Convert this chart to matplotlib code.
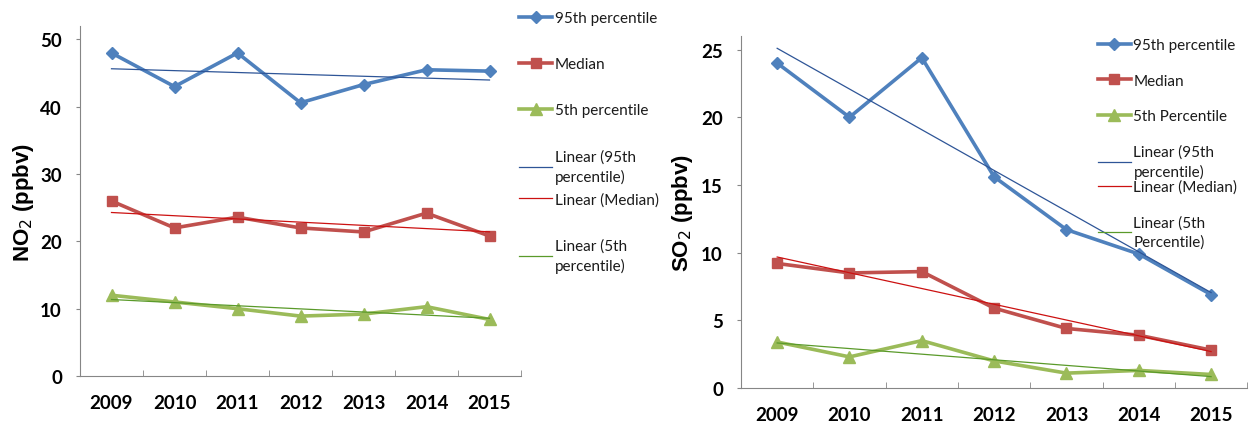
import numpy as np
import matplotlib.pyplot as plt

years = ['2009', '2010', '2011', '2012', '2013', '2014', '2015']

no2_p95 = [48.0, 43.0, 48.0, 40.6, 43.3, 45.5, 45.3]
no2_med = [26.0, 22.0, 23.6, 22.0, 21.4, 24.2, 20.8]
no2_p5 = [12.0, 11.0, 10.0, 8.9, 9.2, 10.3, 8.4]

so2_p95 = [24.0, 20.0, 24.4, 15.6, 11.7, 9.9, 6.9]
so2_med = [9.2, 8.5, 8.6, 5.9, 4.4, 3.9, 2.8]
so2_p5 = [3.4, 2.3, 3.5, 2.0, 1.1, 1.3, 1.0]

no2_labels = ['95th percentile', 'Median', '5th percentile',
              'Linear (95th\npercentile)', 'Linear (Median)', 'Linear (5th\npercentile)']
so2_labels = ['95th percentile', 'Median', '5th Percentile',
              'Linear (95th\npercentile)', 'Linear (Median)', 'Linear (5th\nPercentile)']

# excel-ish palette
cols = ['#4F81BD', '#C0504D', '#9BBB59']
trend_cols = ['#2E5597', '#CC1111', '#5A9A2A']
markers = ['D', 's', '^']
msizes = [6.5, 7.5, 8]

plt.rcParams['font.family'] = ['Lato', 'DejaVu Sans']

fig = plt.figure(figsize=(12.5, 4.31), dpi=100)


def draw(ax, series, ylim, yticks, ylabel, labelx):
    x = np.arange(len(years))
    handles = []
    for s, c, m, ms in zip(series, cols, markers, msizes):
        h, = ax.plot(x, s, color=c, lw=2.6, marker=m, ms=ms, mec=c, mfc=c, zorder=3)
        handles.append(h)
    for s, c in zip(series, trend_cols):
        k, b = np.polyfit(x, s, 1)
        h, = ax.plot(x, k * x + b, color=c, lw=0.9, zorder=4)
        handles.append(h)

    ax.set_xlim(-0.5, len(years) - 0.5)
    ax.set_ylim(*ylim)
    ax.set_yticks(yticks)
    ax.set_xticks(x)
    ax.set_xticklabels(years)
    ax.set_xticks(np.arange(-0.5, len(years)), minor=True)
    ax.tick_params(axis='x', which='major', length=0, pad=13, labelsize=13.5)
    ax.tick_params(axis='x', which='minor', direction='in', length=4.5, color='#868686')
    ax.tick_params(axis='y', direction='out', length=3, pad=10, labelsize=13.5, color='#868686')
    for lab in ax.get_xticklabels() + ax.get_yticklabels():
        lab.set_fontweight('bold')
    for sp in ['top', 'right']:
        ax.spines[sp].set_visible(False)
    for sp in ['left', 'bottom']:
        ax.spines[sp].set_color('#868686')
    ax.set_ylabel(ylabel, fontsize=16, fontweight='bold', family='Liberation Sans')
    ax.yaxis.set_label_coords(labelx, 0.5)
    return handles


def legend(handles, labels, xa, ya, yb, spacing):
    kw = dict(loc='upper left', frameon=False, fontsize=11, borderpad=0, borderaxespad=0,
              handlelength=2.2, handletextpad=0.15, labelspacing=spacing, labelcolor='#1a1a1a')
    for hs, ls, y in [(handles[:4], labels[:4], ya), (handles[4:], labels[4:], yb)]:
        leg = fig.legend(hs, ls, bbox_to_anchor=(xa, y), **kw)
        for t in leg.get_texts():
            t.set_linespacing(1.45)


ax1 = fig.add_axes([0.064, 0.1253, 0.3528, 0.812])
h1 = draw(ax1, [no2_p95, no2_med, no2_p5], (0, 52), [0, 10, 20, 30, 40, 50],
          'NO$_2$ (ppbv)', -0.1)
legend(h1, no2_labels, 0.415, 0.972, 0.552, 2.1)

ax2 = fig.add_axes([0.5928, 0.0974, 0.405, 0.8167])
h2 = draw(ax2, [so2_p95, so2_med, so2_p5], (0, 26), [0, 5, 10, 15, 20, 25],
          'SO$_2$ (ppbv)', -0.09)
legend(h2, so2_labels, 0.878, 0.909, 0.581, 1.4)

fig.savefig('out.png', dpi=100)
